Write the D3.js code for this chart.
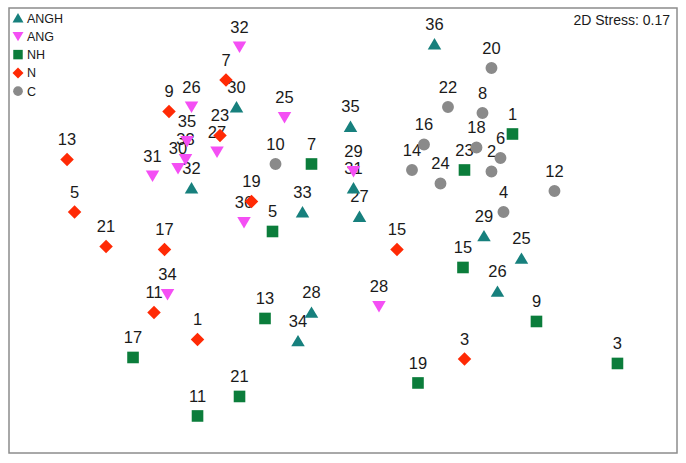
<!DOCTYPE html>
<html>
<head>
<meta charset="utf-8">
<script src="https://cdn.jsdelivr.net/npm/d3@7"></script>
<style>
  html, body { margin: 0; padding: 0; background: #fff; }
  svg { display: block; font-family: "Liberation Sans", Arial, sans-serif; }
</style>
</head>
<body>
<svg id="chart" width="686" height="463"></svg>
<script>
// NMDS ordination, one array per group: [sample label, axis1, axis2]
const groups = ["ANGH", "ANG", "NH", "N", "C"]

const anghPoints = [
    ["36", 0.61, 1.24], ["30", -0.71, 0.82], ["35", 0.05, 0.69], ["32", -1.01, 0.28],
    ["33", -0.27, 0.12], ["31", 0.07, 0.28], ["27", 0.11, 0.09], ["29", 0.94, -0.04],
    ["25", 1.19, -0.19], ["26", 1.03, -0.41], ["28", -0.21, -0.55], ["34", -0.30, -0.74]
]
const angPoints = [
    ["32", -0.69, 1.22], ["26", -1.01, 0.82], ["25", -0.39, 0.75], ["35", -1.04, 0.59],
    ["33", -1.05, 0.47], ["30", -1.10, 0.41], ["27", -0.84, 0.52], ["31", -1.27, 0.36],
    ["36", -0.66, 0.05], ["34", -1.17, -0.43], ["28", 0.24, -0.51], ["29", 0.07, 0.39]
]
const nhPoints = [
    ["1", 1.13, 0.64], ["7", -0.21, 0.44], ["23", 0.81, 0.40], ["5", -0.47, -0.01],
    ["15", 0.80, -0.25], ["9", 1.29, -0.61], ["13", -0.52, -0.59], ["17", -1.40, -0.85],
    ["21", -0.69, -1.11], ["11", -0.97, -1.24], ["19", 0.50, -1.02], ["3", 1.83, -0.89]
]
const nPoints = [
    ["7", -0.78, 1.00], ["9", -1.16, 0.79], ["23", -0.82, 0.63], ["13", -1.84, 0.47],
    ["5", -1.79, 0.12], ["21", -1.58, -0.11], ["17", -1.19, -0.13], ["11", -1.26, -0.55],
    ["1", -0.97, -0.73], ["19", -0.61, 0.19], ["15", 0.36, -0.13], ["3", 0.81, -0.86]
]
const cPoints = [
    ["20", 0.99, 1.08], ["22", 0.70, 0.82], ["8", 0.93, 0.78], ["16", 0.54, 0.57],
    ["18", 0.89, 0.55], ["6", 1.05, 0.48], ["2", 0.99, 0.39], ["14", 0.46, 0.40],
    ["24", 0.65, 0.31], ["4", 1.07, 0.12], ["12", 1.41, 0.26], ["10", -0.45, 0.44]
]
const stressText = "2D Stress: 0.17"

const colors = {ANGH: "#17807d", ANG: "#f44ff4", NH: "#0b7d3b", N: "#ff2a05", C: "#8a8a8a"}

// marker paths centred on 0,0, s is roughly the marker width
const markerPath = (g, s) => {
    const h = s / 2
    if (g === "ANGH") return `M0,${-h*0.9}L${h},${h*0.8}L${-h},${h*0.8}Z`
    if (g === "ANG") return `M0,${h*0.9}L${h},${-h*0.8}L${-h},${-h*0.8}Z`
    if (g === "NH") return `M${-h*0.86},${-h*0.86}H${h*0.86}V${h*0.86}H${-h*0.86}Z`
    if (g === "N") return `M0,${-h}L${h},0L0,${h}L${-h},0Z`
    return d3.symbol().type(d3.symbolCircle).size(Math.PI * (h*0.88) * (h*0.88))()
}

const svg = d3.select("#chart")
const frame = {left: 9, top: 8, right: 677, bottom: 453}

const x = d3.scaleLinear().domain([-2.227, 2.227]).range([frame.left, frame.right])
const y = d3.scaleLinear().domain([-1.487, 1.48]).range([frame.bottom, frame.top])

svg.append("rect")
    .attr("x", frame.left).attr("y", frame.top)
    .attr("width", frame.right - frame.left).attr("height", frame.bottom - frame.top)
    .attr("fill", "#fff").attr("stroke", "#8c8c8c").attr("stroke-width", 1.5)

const allPoints = []
;[["ANGH", anghPoints], ["ANG", angPoints], ["NH", nhPoints], ["N", nPoints], ["C", cPoints]]
    .forEach(([g, pts]) => pts.forEach(p => allPoints.push({group: g, label: p[0], v1: p[1], v2: p[2]})))

//labels first, markers drawn over them like the original
svg.append("g").selectAll("text")
    .data(allPoints)
    .join("text")
    .attr("x", d => x(d.v1))
    .attr("y", d => y(d.v2) - 14)
    .attr("text-anchor", "middle")
    .attr("font-size", 16.5)
    .attr("fill", "#1a1a1a")
    .text(d => d.label)

svg.append("g").selectAll("path")
    .data(allPoints)
    .join("path")
    .attr("transform", d => `translate(${x(d.v1)},${y(d.v2)})`)
    .attr("d", d => markerPath(d.group, 13.5))
    .attr("fill", d => colors[d.group])

// legend
const legend = svg.append("g")
groups.forEach((g, i) => {
    const ly = 18 + i * 18.3
    legend.append("path")
        .attr("transform", `translate(18,${ly})`)
        .attr("d", markerPath(g, 11))
        .attr("fill", colors[g])
    legend.append("text")
        .attr("x", 27).attr("y", ly + 4.5)
        .attr("font-size", 12.5)
        .attr("fill", "#1a1a1a")
        .text(g)
})

svg.append("text")
    .attr("x", 670).attr("y", 25)
    .attr("text-anchor", "end")
    .attr("font-size", 14)
    .attr("fill", "#1a1a1a")
    .text(stressText)
</script>
</body>
</html>
